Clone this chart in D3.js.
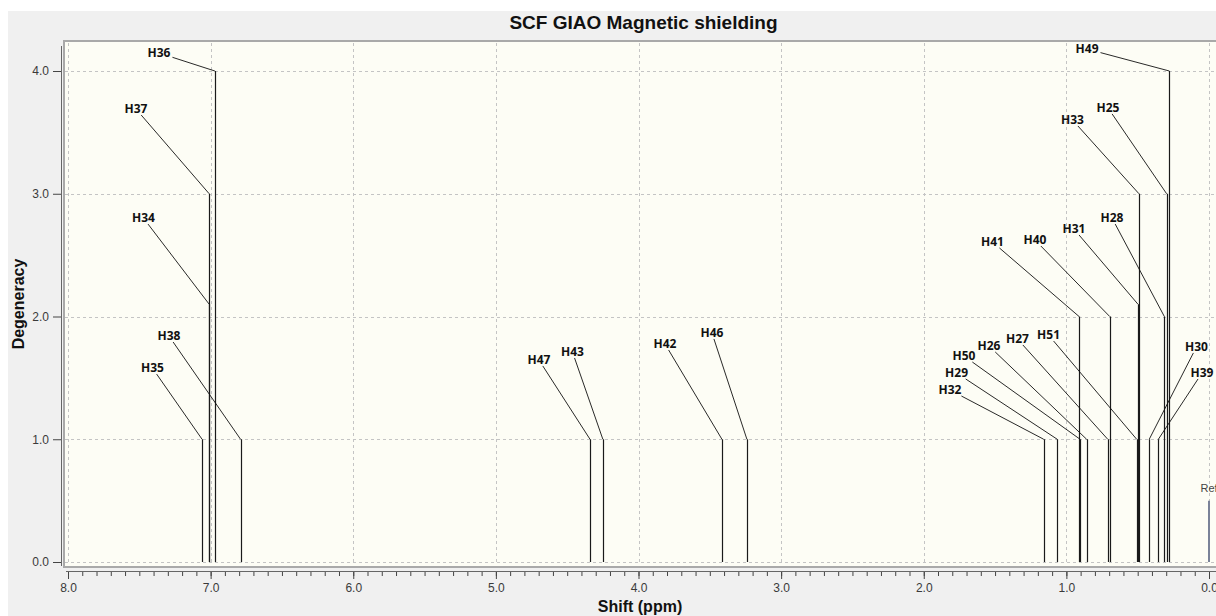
<!DOCTYPE html>
<html>
<head>
<meta charset="utf-8">
<script src="https://cdn.jsdelivr.net/npm/d3@7"></script>
<style>
  html, body { margin: 0; padding: 0; background: #fff; }
  svg { display: block; }
</style>
</head>
<body>
<div id="chart"></div>
<script>
// Peaks: label, shift (ppm), stick height (degeneracy)
const peakLabels = ['H36', 'H37', 'H34', 'H38', 'H35', 'H47', 'H43', 'H42', 'H46',
  'H49', 'H25', 'H33', 'H28', 'H31', 'H40', 'H41', 'H30', 'H39', 'H51', 'H27', 'H26', 'H50', 'H29', 'H32'];
const peakShift = [6.97, 7.01, 7.01, 6.79, 7.06, 4.34, 4.25, 3.415, 3.24,
  0.278, 0.297, 0.491, 0.313, 0.498, 0.696, 0.911, 0.419, 0.355, 0.507, 0.71, 0.858, 0.904, 1.064, 1.159];
const peakDeg = [4, 3, 2.1, 1, 1, 1, 1, 1, 1,
  4, 3, 3, 2, 2.1, 2, 2, 1, 1, 1, 1, 1, 1, 1, 1];
// where each label sits, in chart units
const labelShift = [7.362, 7.523, 7.471, 7.292, 7.408, 4.698, 4.463, 3.814, 3.485,
  0.855, 0.708, 0.957, 0.68, 0.947, 1.22, 1.518, 0.088, 0.049, 1.125, 1.343, 1.543, 1.718, 1.77, 1.816];
const labelDeg = [4.147, 3.69, 2.802, 1.841, 1.58, 1.646, 1.711, 1.776, 1.866,
  4.179, 3.699, 3.601, 2.802, 2.713, 2.623, 2.607, 1.752, 1.54, 1.849, 1.817, 1.76, 1.678, 1.54, 1.401];

const refShift = 0.0;
const refDeg = 0.5;

const xMajorTicks = [8, 7, 6, 5, 4, 3, 2, 1, 0];
const yMajorTicks = [0, 1, 2, 3, 4];

const W = 1216, H = 616;
const plot = { left: 63, top: 41, bottom: 567 };

const svg = d3.select('#chart').append('svg')
  .attr('width', W).attr('height', H);

// window background
svg.append('rect').attr('width', W).attr('height', H).attr('fill', '#fff');
svg.append('rect').attr('x', 8).attr('y', 11).attr('width', W - 8).attr('height', H - 11)
  .attr('fill', '#f0f0f0');

const x = d3.scaleLinear().domain([8, 0]).range([68, 1209]);
const y = d3.scaleLinear().domain([0, 4]).range([562, 71]);

// plot area
svg.append('rect')
  .attr('x', plot.left).attr('y', plot.top)
  .attr('width', W - plot.left).attr('height', plot.bottom - plot.top)
  .attr('fill', '#fdfdf5');

// grid
const grid = svg.append('g').attr('stroke', '#c4c4c4').attr('stroke-width', 1)
  .attr('stroke-dasharray', '3,3');
grid.selectAll('.gx').data(xMajorTicks).enter().append('line')
  .attr('x1', d => Math.round(x(d)) + 0.5).attr('x2', d => Math.round(x(d)) + 0.5)
  .attr('y1', plot.top + 2).attr('y2', plot.bottom - 2);
grid.selectAll('.gy').data(yMajorTicks).enter().append('line')
  .attr('x1', plot.left + 2).attr('x2', W)
  .attr('y1', d => Math.round(y(d)) + 0.5).attr('y2', d => Math.round(y(d)) + 0.5);

// frame
const frame = svg.append('g').attr('stroke', '#a9a9a9').attr('stroke-width', 2);
frame.append('line').attr('x1', plot.left).attr('x2', W).attr('y1', plot.top).attr('y2', plot.top);
frame.append('line').attr('x1', plot.left + 1).attr('x2', plot.left + 1).attr('y1', plot.top).attr('y2', plot.bottom);
frame.append('line').attr('x1', plot.left).attr('x2', W).attr('y1', plot.bottom).attr('y2', plot.bottom);

// axes
const tickFont = "'Liberation Sans', Arial, sans-serif";
const xAxisY = 571;
const xMinor = svg.append('g').attr('transform', `translate(0,${xAxisY})`)
  .call(d3.axisBottom(x).tickValues(d3.range(0, 81).map(i => i / 10)).tickSize(5).tickFormat(''));
const xMajor = svg.append('g').attr('transform', `translate(0,${xAxisY})`)
  .call(d3.axisBottom(x).tickValues(xMajorTicks).tickSize(8).tickPadding(4).tickFormat(d3.format('.1f')));
[xMinor, xMajor].forEach(g => {
  g.select('.domain').remove();
  g.selectAll('line').attr('stroke', '#444');
});
svg.append('line').attr('x1', 66).attr('x2', W).attr('y1', xAxisY + 0.5).attr('y2', xAxisY + 0.5)
  .attr('stroke', '#666');
xMajor.selectAll('text').attr('font-family', tickFont).attr('font-size', '12px').attr('fill', '#3a3a3a');

const yAxisX = 61;
const yAx = svg.append('g').attr('transform', `translate(${yAxisX},0)`)
  .call(d3.axisLeft(y).tickValues(yMajorTicks).tickSize(8).tickPadding(4).tickFormat(d3.format('.1f')));
yAx.select('.domain').remove();
yAx.selectAll('line').attr('stroke', '#444');
yAx.selectAll('text').attr('font-family', tickFont).attr('font-size', '12px').attr('fill', '#3a3a3a');
svg.append('line').attr('x1', yAxisX + 0.5).attr('x2', yAxisX + 0.5).attr('y1', 46).attr('y2', 566)
  .attr('stroke', '#666');

// titles
svg.append('text').attr('x', 643.5).attr('y', 28.5).attr('text-anchor', 'middle')
  .attr('font-family', tickFont).attr('font-weight', 'bold').attr('font-size', '19px')
  .attr('fill', '#111').text('SCF GIAO Magnetic shielding');
svg.append('text').attr('x', 640).attr('y', 611.5).attr('text-anchor', 'middle')
  .attr('font-family', tickFont).attr('font-weight', 'bold').attr('font-size', '16px')
  .attr('fill', '#111').text('Shift (ppm)');
svg.append('text').attr('transform', 'translate(24,304) rotate(-90)').attr('text-anchor', 'middle')
  .attr('font-family', tickFont).attr('font-weight', 'bold').attr('font-size', '16px')
  .attr('fill', '#111').text('Degeneracy');

// peaks
const peaks = peakLabels.map((name, i) => ({
  name, shift: peakShift[i], deg: peakDeg[i], lx: labelShift[i], ly: labelDeg[i]
}));

svg.append('g').selectAll('line').data(peaks).enter().append('line')
  .attr('x1', d => Math.round(x(d.shift)) + 0.5).attr('x2', d => Math.round(x(d.shift)) + 0.5)
  .attr('y1', y(0)).attr('y2', d => y(d.deg))
  .attr('stroke', '#1a1a1a').attr('stroke-width', 1.2);

// reference stick
svg.append('line')
  .attr('x1', x(refShift)).attr('x2', x(refShift))
  .attr('y1', y(0)).attr('y2', y(refDeg))
  .attr('stroke', '#7a8298').attr('stroke-width', 2);
svg.append('text').attr('x', x(refShift)).attr('y', y(refDeg) - 9).attr('text-anchor', 'middle')
  .attr('font-family', tickFont).attr('font-size', '11px').attr('fill', '#444').text('Ref');

// labels and leader lines
const labelG = svg.append('g');
const labels = labelG.selectAll('text').data(peaks).enter().append('text')
  .attr('x', d => x(d.lx)).attr('y', d => y(d.ly)).attr('dy', '0.36em')
  .attr('text-anchor', 'middle')
  .attr('font-family', "'Open Sans', sans-serif").attr('font-weight', 'bold')
  .attr('font-size', '12px').attr('fill', '#111')
  .text(d => d.name);

labels.each(function (d) {
  const hw = this.getComputedTextLength() / 2 + 2;
  const hh = 6;
  const cx = x(d.lx), cy = y(d.ly);
  const tx = x(d.shift), ty = y(d.deg);
  const dx = tx - cx, dy = ty - cy;
  const s = Math.min(hw / Math.abs(dx || 1e-6), hh / Math.abs(dy || 1e-6));
  labelG.append('line')
    .attr('x1', cx + dx * s).attr('y1', cy + dy * s)
    .attr('x2', tx).attr('y2', ty)
    .attr('stroke', '#111').attr('stroke-width', 0.9);
});
</script>
</body>
</html>
